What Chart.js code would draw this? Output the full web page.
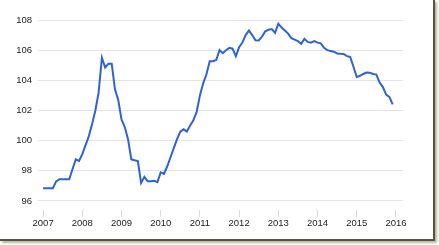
<!DOCTYPE html>
<html>
<head>
<meta charset="utf-8">
<script src="https://cdn.jsdelivr.net/npm/chart.js@4/dist/chart.umd.min.js"></script>
<style>
  html, body { margin: 0; padding: 0; background: #fff; }
  #frame {
    position: absolute; left: 0; top: 0;
    width: 433px; height: 239px;
    background: #fff;
    border-right: 2px solid #57534a;
    border-bottom: 2px solid #57534a;
    box-shadow: 2px 2px 2px #c2b596;
  }
  #chart { display: block; }
</style>
</head>
<body>
<div id="frame"><canvas id="chart" width="433" height="239"></canvas></div>
<script>
// monthly index values, Jan 2007 - Dec 2015
var startYear = 2007;
var values = [
  96.84, 96.84, 96.84, 96.84, 97.30, 97.44, 97.44, 97.44, 97.44, 98.10, 98.75, 98.65,
  99.10, 99.70, 100.30, 101.10, 102.00, 103.20, 105.50, 104.85, 105.10, 105.10, 103.40, 102.70,
  101.40, 100.90, 100.10, 98.76, 98.70, 98.65, 97.20, 97.60, 97.30, 97.30, 97.33, 97.25,
  97.90, 97.80, 98.30, 98.90, 99.50, 100.10, 100.60, 100.75, 100.60, 101.00, 101.35, 101.90,
  103.00, 103.80, 104.40, 105.27, 105.27, 105.35, 106.00, 105.80, 106.00, 106.15, 106.10, 105.60,
  106.20, 106.50, 107.00, 107.30, 107.00, 106.65, 106.64, 106.90, 107.25, 107.35, 107.40, 107.15,
  107.75, 107.50, 107.30, 107.10, 106.80, 106.70, 106.60, 106.42, 106.75, 106.55, 106.50, 106.60,
  106.50, 106.45, 106.15, 106.00, 105.95, 105.90, 105.78, 105.76, 105.75, 105.60, 105.55, 104.90,
  104.22, 104.30, 104.42, 104.52, 104.50, 104.42, 104.38, 103.85, 103.55, 103.05, 102.90, 102.40
];
var yearTicks = [2007, 2008, 2009, 2010, 2011, 2012, 2013, 2014, 2015, 2016];
var valueTicks = [96, 98, 100, 102, 104, 106, 108];

var points = values.map(function (v, i) {
    return { x: startYear + i / 12, y: v };
});

var font = { family: 'Liberation Sans, Arial, sans-serif', size: 9.5 };

new Chart(document.getElementById('chart'), {
    type: 'line',
    data: {
        datasets: [{
            data: points,
            borderColor: '#2f62d2',
            borderWidth: 2,
            pointRadius: 0,
            tension: 0,
            fill: false
        }]
    },
    options: {
        responsive: false,
        animation: false,
        layout: { padding: { top: 20, right: 30, left: 0, bottom: 0 } },
        plugins: { legend: { display: false }, tooltip: { enabled: false } },
        scales: {
            x: {
                type: 'linear',
                min: 2006.87,
                max: 2016.18,
                afterBuildTicks: function (scale) {
                    scale.ticks = yearTicks.map(function (y) { return { value: y }; });
                },
                afterFit: function (scale) { scale.height = 29; },
                grid: { drawOnChartArea: false, drawTicks: true, tickLength: 7, color: '#d8d8d8' },
                border: { display: false },
                ticks: {
                    color: '#222',
                    font: font,
                    padding: 1,
                    maxRotation: 0,
                    autoSkip: false,
                    callback: function (v) { return String(v); }
                }
            },
            y: {
                min: 95.4,
                max: 108,
                afterBuildTicks: function (scale) {
                    scale.ticks = valueTicks.map(function (v) { return { value: v }; });
                },
                afterFit: function (scale) { scale.width = 38; },
                grid: { drawTicks: false, color: '#e4e4e4', lineWidth: 1 },
                border: { display: false },
                ticks: {
                    color: '#222',
                    font: font,
                    padding: 6,
                    callback: function (v) { return String(v); }
                }
            }
        }
    }
});
</script>
</body>
</html>
